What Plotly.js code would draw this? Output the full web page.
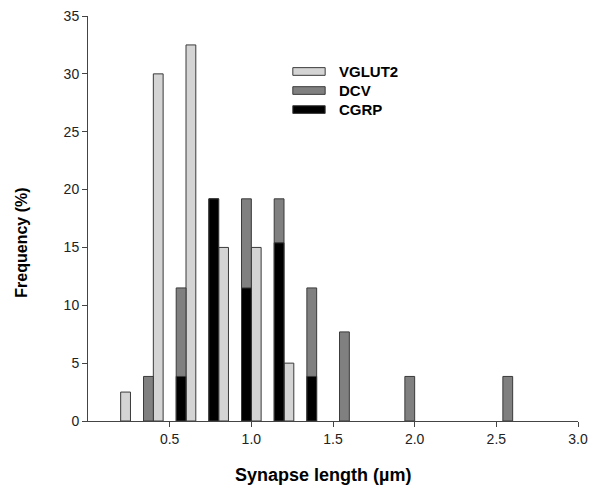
<!DOCTYPE html>
<html>
<head>
<meta charset="utf-8">
<script src="https://cdn.plot.ly/plotly-3.0.1.min.js"></script>
<style>html,body{margin:0;padding:0;background:#fff;}#chart{width:591px;height:490px;}</style>
</head>
<body>
<div id="chart"></div>
<script>
// Bin centers (µm)
const bins = [0.2, 0.4, 0.6, 0.8, 1.0, 1.2, 1.4, 1.6, 1.8, 2.0, 2.2, 2.4, 2.6];
// Frequencies (%)
const vglut2 = [2.5, 30, 32.5, 15, 15, 5, null, null, null, null, null, null, null];
const dcv    = [null, 3.85, 11.5, 19.2, 19.2, 19.2, 11.5, 7.7, null, 3.85, null, null, 3.85];
const cgrp   = [null, null, 3.85, 19.2, 11.5, 15.4, 3.85, null, null, null, null, null, null];
const seriesNames = ['VGLUT2', 'DCV', 'CGRP'];
const seriesColors = ['#d4d4d4', '#808080', '#000000'];
const xTicks = [0.5, 1.0, 1.5, 2.0, 2.5, 3.0];
const xTickText = ['0.5', '1.0', '1.5', '2.0', '2.5', '3.0'];
const yTicks = [0, 5, 10, 15, 20, 25, 30, 35];
const xTitle = 'Synapse length (µm)';
const yTitle = 'Frequency (%)';

const FONT = 'Liberation Sans, Arial, sans-serif';
const barW = 0.06;
const outline = {color: '#3a3a3a', width: 1};
const traces = [
  {type: 'bar', name: seriesNames[0], x: bins, y: vglut2, width: barW, offset: 0,
   marker: {color: seriesColors[0], line: outline}},
  {type: 'bar', name: seriesNames[1], x: bins, y: dcv, width: barW, offset: -barW,
   marker: {color: seriesColors[1], line: outline}},
  {type: 'bar', name: seriesNames[2], x: bins, y: cgrp, width: barW, offset: -barW,
   marker: {color: seriesColors[2], line: outline}}
];

// Custom legend (wide flat swatches as in the reference)
const legX0 = 0.418, legX1 = 0.484, legTextX = 0.508;
const legY = [0.863, 0.816, 0.769];
const legH = 0.0095;
const shapes = [], annotations = [];
seriesNames.forEach((n, i) => {
  shapes.push({type: 'rect', xref: 'paper', yref: 'paper', x0: legX0, x1: legX1,
    y0: legY[i] - legH, y1: legY[i] + legH, fillcolor: seriesColors[i],
    line: {color: '#3a3a3a', width: 1}});
  annotations.push({xref: 'paper', yref: 'paper', x: legTextX, y: legY[i], xanchor: 'left',
    yanchor: 'middle', text: '<b>' + n + '</b>', showarrow: false,
    font: {family: FONT, size: 15, color: '#000'}});
});
annotations.push({xref: 'paper', yref: 'paper', x: -0.135, y: 0.44, xanchor: 'center', yanchor: 'middle',
  text: '<b>' + yTitle + '</b>', textangle: -90, showarrow: false,
  font: {family: FONT, size: 16, color: '#000'}});
annotations.push({xref: 'paper', yref: 'paper', x: 0.48, y: -0.133, xanchor: 'center', yanchor: 'middle',
  text: '<b>' + xTitle + '</b>', showarrow: false,
  font: {family: FONT, size: 18, color: '#000'}});

const layout = {
  width: 591, height: 490,
  margin: {l: 88, r: 13, t: 16, b: 69},
  paper_bgcolor: '#ffffff', plot_bgcolor: '#ffffff',
  barmode: 'overlay',
  showlegend: false,
  font: {family: FONT, size: 14, color: '#222'},
  xaxis: {
    range: [0, 3.0], tickvals: xTicks, ticktext: xTickText,
    showgrid: false, zeroline: false, showline: true, linecolor: '#444', linewidth: 1,
    ticks: 'outside', ticklen: 5, tickcolor: '#444', tickfont: {size: 14, color: '#222'}
  },
  yaxis: {
    range: [0, 35], tickvals: yTicks,
    showgrid: false, zeroline: false, showline: true, linecolor: '#444', linewidth: 1,
    ticks: 'outside', ticklen: 5, tickcolor: '#444', tickfont: {size: 14, color: '#222'}
  },
  shapes: shapes,
  annotations: annotations
};

Plotly.newPlot('chart', traces, layout, {displayModeBar: false, staticPlot: true});
</script>
</body>
</html>
